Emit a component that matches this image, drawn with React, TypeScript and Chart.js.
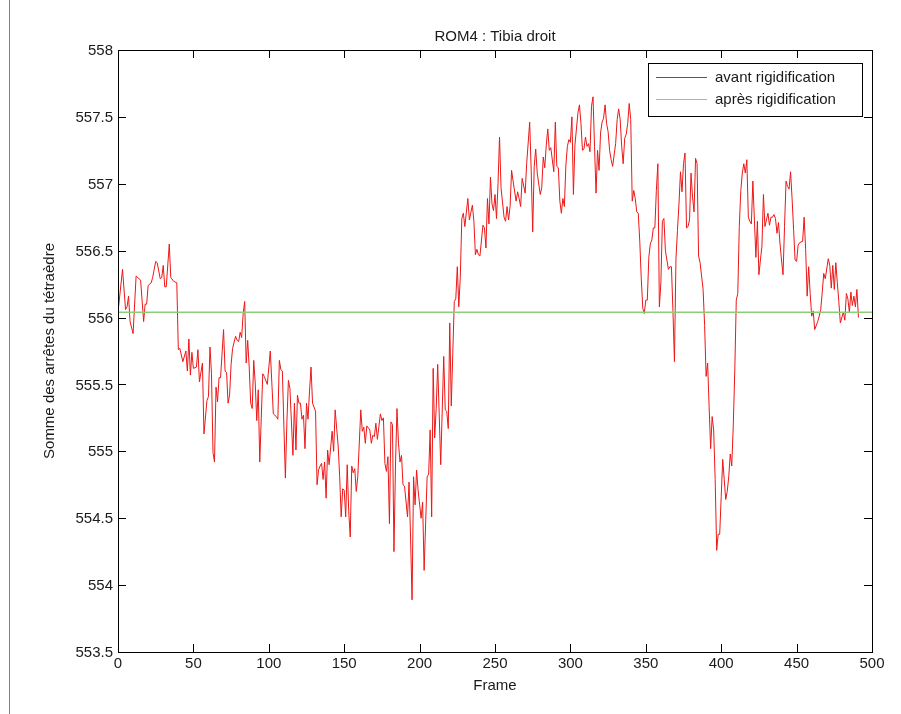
import React, { useEffect, useRef } from "react";
import { Chart, registerables } from "chart.js";

Chart.register(...registerables);

const TITLE = "ROM4 : Tibia droit";
const X_LABEL = "Frame";
const Y_LABEL = "Somme des arrêtes du tétraèdre";
const LEGEND_LABELS = ["avant rigidification", "après rigidification"];
const X_TICKS = [0, 50, 100, 150, 200, 250, 300, 350, 400, 450, 500];
const Y_TICKS = [553.5, 554, 554.5, 555, 555.5, 556, 556.5, 557, 557.5, 558];

// [frame, value]
const AVANT: [number, number][] = [
  [0, 556.04], [3, 556.36], [5, 556.06], [6, 556.08], [7, 556.16], [8, 555.97], [10, 555.88], [12, 556.31],
  [15, 556.28], [17, 555.97], [18, 556.1], [19, 556.1], [20, 556.24], [22, 556.26], [23, 556.3], [25, 556.42],
  [26, 556.41], [28, 556.29], [29, 556.3], [30, 556.39], [31, 556.23], [32, 556.23], [34, 556.55], [35, 556.3],
  [37, 556.27], [39, 556.26], [40, 555.76], [41, 555.77], [43, 555.67], [45, 555.75], [46, 555.6], [47, 555.84],
  [48, 555.57], [49, 555.74], [50, 555.62], [52, 555.63], [53, 555.76], [54, 555.52], [56, 555.66], [57, 555.13],
  [59, 555.38], [60, 555.41], [61, 555.78], [62, 555.58], [63, 554.99], [64, 554.92], [65, 555.48], [66, 555.37],
  [67, 555.55], [68, 555.55], [70, 555.91], [71, 555.6], [72, 555.59], [73, 555.36], [74, 555.42], [75, 555.65],
  [76, 555.77], [78, 555.86], [79, 555.83], [80, 555.82], [81, 555.89], [82, 555.85], [83, 556.03], [84, 556.12],
  [85, 555.66], [86, 555.83], [87, 555.63], [88, 555.36], [89, 555.32], [90, 555.68], [91, 555.51], [92, 555.23],
  [93, 555.46], [94, 554.92], [96, 555.58], [97, 555.56], [99, 555.5], [101, 555.75], [103, 555.28], [105, 555.26],
  [106, 555.24], [107, 555.68], [108, 555.61], [109, 555.6], [110, 555.19], [111, 554.8], [112, 555.22], [113, 555.53],
  [114, 555.47], [116, 554.97], [117, 555.36], [118, 555.01], [119, 555.42], [120, 555.36], [121, 555.36], [122, 555.24],
  [123, 555.27], [124, 555.02], [125, 555.36], [126, 555.24], [127, 555.45], [128, 555.63], [129, 555.36], [131, 555.3],
  [132, 554.75], [133, 554.86], [134, 554.89], [135, 554.91], [136, 554.79], [137, 554.92], [138, 554.65], [139, 555.01],
  [140, 554.9], [142, 555.15], [143, 555.0], [144, 555.31], [146, 555.04], [147, 554.81], [148, 554.51], [149, 554.72],
  [150, 554.71], [151, 554.51], [152, 554.9], [153, 554.55], [154, 554.36], [155, 554.89], [156, 554.84], [157, 554.87],
  [158, 554.7], [159, 554.81], [161, 555.31], [162, 555.15], [163, 555.18], [164, 555.06], [165, 555.19], [167, 555.16],
  [168, 555.06], [169, 555.12], [170, 555.11], [171, 555.21], [172, 555.09], [174, 555.28], [175, 555.23], [176, 555.25],
  [177, 554.91], [178, 554.85], [179, 554.96], [180, 554.46], [181, 555.22], [182, 555.2], [183, 554.25], [184, 554.89],
  [185, 555.32], [186, 555.06], [187, 554.92], [188, 554.97], [189, 554.75], [190, 554.74], [192, 554.51], [193, 554.77],
  [194, 554.36], [195, 553.89], [196, 554.81], [197, 554.6], [198, 554.86], [199, 554.71], [201, 554.5], [202, 554.62],
  [203, 554.11], [205, 554.81], [206, 554.83], [207, 555.16], [208, 554.51], [209, 555.62], [210, 555.1], [211, 555.32],
  [212, 555.65], [214, 554.9], [216, 555.71], [217, 555.31], [218, 555.3], [219, 555.17], [220, 555.96], [221, 555.34],
  [222, 555.73], [223, 556.12], [224, 556.14], [225, 556.38], [226, 556.08], [227, 556.31], [228, 556.74], [229, 556.78],
  [230, 556.68], [232, 556.89], [233, 556.73], [235, 556.84], [236, 556.72], [237, 556.47], [238, 556.51], [239, 556.47],
  [240, 556.46], [242, 556.69], [243, 556.67], [244, 556.52], [245, 556.89], [246, 556.7], [247, 557.05], [248, 556.85],
  [249, 556.8], [250, 556.92], [251, 556.74], [252, 557.0], [253, 557.35], [254, 556.97], [256, 556.75], [257, 556.72],
  [258, 556.83], [259, 556.73], [260, 556.83], [261, 557.1], [262, 557.02], [264, 556.87], [265, 556.94], [266, 556.89],
  [267, 556.83], [268, 557.04], [270, 556.93], [271, 557.15], [273, 557.46], [274, 557.1], [275, 556.64], [276, 557.13],
  [277, 557.26], [278, 557.08], [280, 556.92], [281, 556.97], [282, 557.2], [283, 557.12], [284, 557.29], [285, 557.41],
  [286, 557.25], [287, 557.27], [289, 557.09], [290, 557.46], [291, 557.13], [292, 557.12], [293, 556.87], [294, 556.78],
  [295, 556.89], [296, 556.83], [297, 557.14], [298, 557.28], [299, 557.33], [300, 557.31], [301, 557.5], [302, 556.92],
  [303, 557.29], [305, 557.53], [306, 557.59], [307, 557.45], [308, 557.25], [309, 557.26], [310, 557.35], [311, 557.28],
  [312, 557.3], [313, 557.24], [314, 557.58], [315, 557.65], [316, 557.28], [317, 556.93], [318, 557.25], [319, 557.1],
  [320, 557.38], [321, 557.46], [322, 557.49], [323, 557.59], [324, 557.45], [325, 557.39], [326, 557.25], [327, 557.18],
  [328, 557.13], [330, 557.3], [331, 557.48], [332, 557.56], [333, 557.48], [334, 557.28], [335, 557.15], [336, 557.34],
  [337, 557.37], [338, 557.45], [339, 557.6], [340, 557.48], [341, 556.87], [342, 556.95], [343, 556.89], [344, 556.79],
  [345, 556.78], [346, 556.57], [347, 556.29], [348, 556.07], [349, 556.03], [350, 556.13], [351, 556.13], [352, 556.45],
  [353, 556.55], [354, 556.58], [355, 556.67], [356, 556.67], [357, 556.95], [358, 557.15], [359, 556.08], [360, 556.26],
  [361, 556.72], [362, 556.74], [363, 556.5], [364, 556.43], [365, 556.36], [366, 556.38], [367, 556.38], [368, 556.05],
  [369, 555.67], [370, 556.44], [371, 556.65], [372, 556.85], [373, 557.09], [374, 556.94], [375, 557.15], [376, 557.23],
  [377, 556.67], [378, 556.68], [379, 556.73], [380, 557.08], [381, 556.9], [382, 556.79], [383, 557.19], [384, 557.15],
  [385, 556.46], [386, 556.41], [388, 556.21], [389, 555.94], [390, 555.56], [391, 555.66], [392, 555.33], [393, 555.02],
  [394, 555.26], [395, 555.16], [396, 554.79], [397, 554.26], [398, 554.38], [399, 554.38], [400, 554.66], [401, 554.94],
  [402, 554.79], [403, 554.64], [404, 554.7], [405, 554.81], [406, 554.98], [407, 554.89], [408, 555.19], [409, 555.6],
  [410, 556.13], [411, 556.18], [412, 556.68], [413, 556.95], [414, 557.08], [415, 557.15], [416, 557.08], [417, 557.18],
  [418, 556.75], [419, 556.72], [420, 556.7], [421, 557.02], [423, 556.45], [424, 556.72], [425, 556.32], [426, 556.43],
  [427, 556.53], [428, 556.92], [429, 556.68], [431, 556.78], [432, 556.69], [433, 556.75], [434, 556.75], [435, 556.77],
  [436, 556.74], [437, 556.63], [438, 556.71], [439, 556.55], [440, 556.43], [441, 556.32], [442, 556.68], [443, 557.02],
  [444, 556.98], [445, 556.96], [446, 557.09], [447, 556.89], [448, 556.66], [449, 556.43], [450, 556.42], [451, 556.54],
  [452, 556.56], [454, 556.57], [455, 556.75], [456, 556.51], [457, 556.16], [458, 556.38], [459, 556.18], [460, 556.01],
  [461, 556.05], [462, 555.91], [464, 555.97], [465, 556.01], [466, 556.06], [467, 556.19], [468, 556.33], [469, 556.29],
  [471, 556.44], [472, 556.39], [473, 556.22], [474, 556.39], [475, 556.21], [476, 556.41], [477, 556.26], [478, 556.12],
  [479, 555.96], [481, 556.04], [482, 555.98], [483, 556.18], [484, 556.14], [485, 556.04], [486, 556.19], [487, 556.09],
  [488, 556.16], [489, 556.08], [490, 556.21], [491, 556.0],
];

const APRES_FRAMES = [0, 500];
const APRES_VALUE = 556.04;

const FONT = '"Liberation Sans", Arial, Helvetica, sans-serif';
const TEXT = "#1a1a1a";
const RED = "rgb(238, 22, 22)";
const GREEN = "rgb(140, 206, 118)";

export default function App() {
  const ref = useRef<HTMLCanvasElement>(null);

  useEffect(() => {
    if (!ref.current) return;
    const decor = {
      id: "matlabDecor",
      beforeDraw(chart: any) {
        const ctx = chart.ctx;
        ctx.save();
        ctx.strokeStyle = "#808080";
        ctx.lineWidth = 1;
        ctx.beginPath();
        ctx.moveTo(9.5, 0);
        ctx.lineTo(9.5, 714);
        ctx.stroke();
        ctx.restore();
      },
      afterDraw(chart: any) {
        const ctx = chart.ctx;
        const a = chart.chartArea;
        const xs = chart.scales.x;
        const ys = chart.scales.y;
        ctx.save();
        // box
        ctx.strokeStyle = "#000";
        ctx.lineWidth = 1;
        ctx.strokeRect(Math.round(a.left) + 0.5, Math.round(a.top) + 0.5, Math.round(a.right - a.left), Math.round(a.bottom - a.top));
        // ticks inward
        const TL = 8;
        ctx.beginPath();
        X_TICKS.forEach((t) => {
          const px = Math.round(xs.getPixelForValue(t)) + 0.5;
          ctx.moveTo(px, a.bottom);
          ctx.lineTo(px, a.bottom - TL);
          ctx.moveTo(px, a.top);
          ctx.lineTo(px, a.top + TL);
        });
        Y_TICKS.forEach((t) => {
          const py = Math.round(ys.getPixelForValue(t)) + 0.5;
          ctx.moveTo(a.left, py);
          ctx.lineTo(a.left + TL, py);
          ctx.moveTo(a.right, py);
          ctx.lineTo(a.right - TL, py);
        });
        ctx.stroke();

        // tick labels
        ctx.fillStyle = TEXT;
        ctx.font = `15px ${FONT}`;
        ctx.textAlign = "center";
        ctx.textBaseline = "top";
        X_TICKS.forEach((t) => {
          ctx.fillText(String(t), xs.getPixelForValue(t), a.bottom + 4);
        });
        ctx.textAlign = "right";
        ctx.textBaseline = "middle";
        Y_TICKS.forEach((t) => {
          ctx.fillText(String(t), a.left - 5, ys.getPixelForValue(t) + 1);
        });

        // title & axis labels
        ctx.textAlign = "center";
        ctx.textBaseline = "middle";
        ctx.fillText(TITLE, (a.left + a.right) / 2, 37);
        ctx.fillText(X_LABEL, (a.left + a.right) / 2, 686);
        ctx.save();
        ctx.translate(50, (a.top + a.bottom) / 2);
        ctx.rotate(-Math.PI / 2);
        ctx.fillText(Y_LABEL, 0, 0);
        ctx.restore();

        // legend
        const lx = 648, ly = 63, lw = 214, lh = 53;
        ctx.fillStyle = "#fff";
        ctx.fillRect(lx, ly, lw, lh);
        ctx.strokeStyle = "#000";
        ctx.strokeRect(lx + 0.5, ly + 0.5, lw, lh);
        const rows = [
          { y: 77, color: RED, label: LEGEND_LABELS[0] },
          { y: 99, color: GREEN, label: LEGEND_LABELS[1] },
        ];
        rows.forEach((r) => {
          ctx.strokeStyle = r.color;
          ctx.lineWidth = 1;
          ctx.beginPath();
          ctx.moveTo(656, r.y + 0.5);
          ctx.lineTo(707, r.y + 0.5);
          ctx.stroke();
          ctx.fillStyle = TEXT;
          ctx.textAlign = "left";
          ctx.textBaseline = "middle";
          ctx.fillText(r.label, 715, r.y + 1);
        });
        ctx.restore();
      },
    };

    const chart = new Chart(ref.current, {
      type: "line",
      data: {
        datasets: [
          {
            label: LEGEND_LABELS[0],
            data: AVANT.map(([x, y]) => ({ x, y })),
            borderColor: RED,
            borderWidth: 1,
            pointRadius: 0,
            tension: 0,
            order: 1,
          },
          {
            label: LEGEND_LABELS[1],
            data: APRES_FRAMES.map((x) => ({ x, y: APRES_VALUE })),
            borderColor: GREEN,
            borderWidth: 1.5,
            pointRadius: 0,
            tension: 0,
            order: 0,
          },
        ],
      },
      options: {
        responsive: false,
        animation: false,
        devicePixelRatio: 1,
        layout: { padding: { left: 118, top: 50, right: 29, bottom: 62 } },
        plugins: {
          legend: { display: false },
          tooltip: { enabled: false },
          title: { display: false },
        },
        scales: {
          x: {
            type: "linear",
            min: 0,
            max: 500,
            afterFit: (s: any) => {
              s.height = 0;
            },
            grid: { display: false, drawTicks: false },
            border: { display: false },
            ticks: { display: false, stepSize: 50 },
          },
          y: {
            type: "linear",
            min: 553.5,
            max: 558,
            afterFit: (s: any) => {
              s.width = 0;
            },
            grid: { display: false, drawTicks: false },
            border: { display: false },
            ticks: { display: false, stepSize: 0.5 },
          },
        },
      },
      plugins: [decor],
    } as any);
    return () => chart.destroy();
  }, []);

  return (
    <div style={{ position: "absolute", left: 0, top: 0, width: 901, height: 714, background: "#fff" }}>
      <canvas ref={ref} width={901} height={714} style={{ display: "block", width: 901, height: 714 }} />
    </div>
  );
}
